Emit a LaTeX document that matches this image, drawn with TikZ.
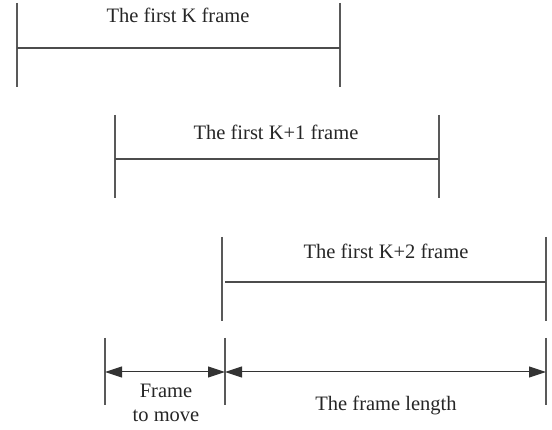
\documentclass[tikz,border=0pt]{standalone}
\usepackage{fontspec}
\setmainfont{Liberation Serif}
\usetikzlibrary{arrows.meta}
\begin{document}
\begin{tikzpicture}[x=1pt,y=-1pt,
  tick/.style={draw=black!65,line width=1.1pt},
  span/.style={draw=black!70,line width=1.1pt},
  dim/.style={draw=black!80,line width=1pt,{Triangle[length=17pt,width=11pt]}-{Triangle[length=17pt,width=11pt]}},
  lbl/.style={font=\fontsize{20.5}{23}\selectfont,text=black!85,anchor=base,inner sep=0pt}]
\useasboundingbox (0,0) rectangle (552,430);
% frame 1
\coordinate (a1) at (17,3); \coordinate (a2) at (17,87);
\coordinate (b1) at (340,3); \coordinate (b2) at (340,87);
\coordinate (am) at (17,48); \coordinate (bm) at (340,48);
\draw[tick] (a1) -- (a2); \draw[tick] (b1) -- (b2);
\draw[span] (am) -- (bm);
\node[lbl] (t1) at (178,23) {The first K frame};
% frame 2
\coordinate (c1) at (115,115); \coordinate (c2) at (115,198);
\coordinate (d1) at (439,115); \coordinate (d2) at (439,198);
\coordinate (cm) at (115,159); \coordinate (dm) at (439,159);
\draw[tick] (c1) -- (c2); \draw[tick] (d1) -- (d2);
\draw[span] (cm) -- (dm);
\node[lbl] (t2) at (276,140) {The first K+1 frame};
% frame 3
\coordinate (e1) at (222,237); \coordinate (e2) at (222,321);
\coordinate (f1) at (546,237); \coordinate (f2) at (546,321);
\coordinate (em) at (225,282); \coordinate (fm) at (546,282);
\draw[tick] (e1) -- (e2); \draw[tick] (f1) -- (f2);
\draw[span] (em) -- (fm);
\node[lbl] (t3) at (386,259) {The first K+2 frame};
% dimensions
\coordinate (g1) at (105,338); \coordinate (g2) at (105,405);
\coordinate (h1) at (225,338); \coordinate (h2) at (225,405);
\coordinate (k1) at (546,338); \coordinate (k2) at (546,405);
\coordinate (gm) at (105,372); \coordinate (hm) at (225,372); \coordinate (km) at (546,372);
\draw[tick] (g1) -- (g2); \draw[tick] (h1) -- (h2); \draw[tick] (k1) -- (k2);
\draw[dim] (gm) -- (hm);
\draw[dim] (hm) -- (km);
\node[lbl] (m1) at (166,398) {Frame};
\node[lbl] (m2) at (166,421) {to move};
\node[lbl] (fl) at (386,411) {The frame length};
\end{tikzpicture}
\end{document}
